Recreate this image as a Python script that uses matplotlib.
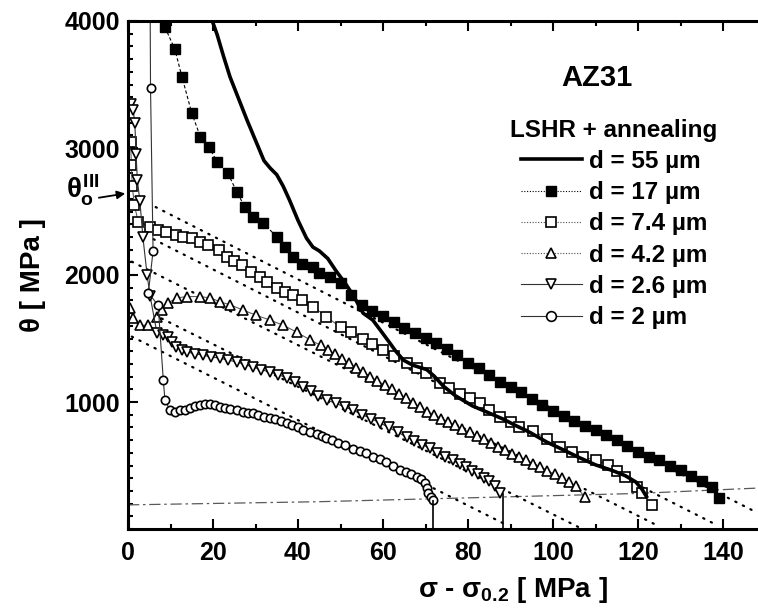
import numpy as np
import matplotlib
matplotlib.use('Agg')
import matplotlib.pyplot as plt
from matplotlib.lines import Line2D

plt.rcParams['font.family'] = ['Liberation Sans', 'DejaVu Sans']
plt.rcParams['font.weight'] = 'bold'
plt.rcParams['mathtext.fontset'] = 'custom'
plt.rcParams['mathtext.rm'] = 'Liberation Sans:bold'
plt.rcParams['mathtext.it'] = 'Liberation Sans:bold'
plt.rcParams['mathtext.bf'] = 'Liberation Sans:bold'

# d = 55 um (solid line)
x55 = [19.3, 21, 22.5, 24, 26, 28, 30, 32, 33.5, 35, 36.5, 38, 40, 42, 43.5, 45, 47, 49, 51, 53,
       55.3, 57.6, 59.5, 61.6, 63, 64.8, 67, 70.3, 72, 74.2, 77, 81, 84.5, 88.3, 91.5, 94.6, 98.5,
       102, 106, 110, 114, 117, 119.5, 121, 122]
t55 = [4050, 3890, 3720, 3560, 3390, 3220, 3060, 2900, 2840, 2790, 2700, 2590, 2430, 2290, 2220,
       2190, 2130, 2030, 1940, 1840, 1700, 1645, 1560, 1465, 1400, 1330, 1290, 1255, 1205, 1125,
       1050, 970, 920, 865, 810, 760, 685, 630, 565, 505, 460, 420, 370, 310, 255]

# d = 17 um (filled squares)
x17 = [8.7, 11, 12.7, 15, 17, 19, 21, 23.5, 25.6, 27.5, 29.5, 31.8, 35, 37, 38.9, 41, 43.6, 45,
       47.5, 50, 52.5, 55, 57.5, 60, 62.5, 65, 67.5, 70, 72.5, 75, 77.5, 80, 82.5, 85, 87.5, 90,
       92.5, 95, 97.5, 100, 102.5, 105, 107.5, 110, 112.5, 115, 117.5, 120, 122.5, 125, 127.5,
       130, 132.5, 135, 137.5, 139]
t17 = [3950, 3780, 3560, 3275, 3090, 3010, 2890, 2800, 2655, 2535, 2460, 2410, 2300, 2220, 2140,
       2090, 2065, 2015, 1985, 1935, 1840, 1760, 1720, 1680, 1630, 1585, 1545, 1505, 1465, 1420,
       1370, 1310, 1265, 1210, 1160, 1120, 1075, 1020, 975, 930, 890, 850, 810, 780, 740, 700,
       650, 605, 570, 540, 500, 465, 420, 380, 330, 245]

# d = 7.4 um (open squares)
x74 = [0.6, 0.8, 1.0, 1.5, 2.4, 5.2, 7, 9, 11.4, 13, 15, 17, 18.9, 21.3, 23.2, 25, 26.8, 29, 31,
       32.6, 35, 37, 38.8, 41, 43.6, 46.7, 50, 52.5, 55.3, 57.5, 60, 62.5, 65.6, 68, 70, 73.4,
       75.5, 78, 80.5, 82.8, 85, 87.5, 90, 92, 95.3, 98.5, 101.6, 104.5, 107, 110, 113, 115,
       117, 119.8, 121, 123.3]
t74 = [3050, 2870, 2700, 2550, 2420, 2380, 2355, 2340, 2315, 2300, 2290, 2260, 2235, 2200, 2140,
       2110, 2080, 2025, 1985, 1945, 1900, 1870, 1840, 1800, 1750, 1670, 1590, 1550, 1500, 1460,
       1410, 1360, 1305, 1265, 1225, 1150, 1110, 1065, 1030, 990, 940, 885, 840, 800, 775, 710,
       645, 610, 570, 540, 505, 460, 410, 330, 280, 190]

# d = 4.2 um (triangles)
x42 = [0.5, 1.2, 2.8, 4.7, 6.8, 8, 9.4, 11.5, 13.8, 17, 19.3, 21.6, 24, 27, 30, 33.4, 36.5,
       39.7, 42.8, 45.4, 47, 48.7, 50.4, 52, 53.7, 55.4, 57, 58.7, 60.4, 62, 63.7, 65.4, 67,
       68.7, 70.4, 72, 73.7, 75.4, 77, 78.7, 80.4, 82, 83.7, 85.4, 87, 88.7, 90.4, 92, 93.7,
       95.4, 97, 98.7, 100.4, 102, 103.7, 105.4, 107.5]
t42 = [1740, 1660, 1605, 1605, 1670, 1725, 1780, 1820, 1830, 1830, 1820, 1790, 1765, 1725, 1685,
       1645, 1605, 1550, 1490, 1445, 1410, 1375, 1340, 1305, 1270, 1235, 1200, 1165, 1135, 1100,
       1065, 1030, 995, 960, 925, 900, 870, 845, 815, 790, 760, 730, 705, 675, 645, 620, 590,
       565, 540, 515, 490, 460, 430, 400, 370, 335, 252]

# d = 2.6 um (inverted triangles)
x26 = [0.8, 1.2, 1.6, 1.9, 2.2, 2.8, 3.5, 4.5, 5.2, 6.8, 8.2, 9.4, 10.4, 11.4, 12.6, 13.8, 15.7,
       17.6, 19.6, 21.6, 23.6, 25.6, 27.5, 29.4, 31.4, 33.4, 35.4, 37.4, 39.3, 41.2, 43, 44.8,
       46.8, 48.9, 51, 53, 55.1, 57.2, 59.3, 61.4, 63.5, 65.6, 67.4, 69.2, 71, 72.8, 74.7, 76.5,
       78, 79.5, 81, 82.3, 83.7, 85, 86.3, 87.5]
t26 = [3350, 3300, 3200, 2950, 2750, 2580, 2300, 2000, 1835, 1545, 1530, 1510, 1470, 1435, 1410,
       1395, 1380, 1370, 1355, 1345, 1330, 1315, 1295, 1275, 1255, 1235, 1215, 1190, 1155, 1120,
       1085, 1050, 1015, 990, 960, 935, 900, 870, 835, 800, 760, 725, 695, 665, 635, 600, 570,
       540, 510, 485, 460, 435, 405, 375, 335, 283]
x26_drop = 88.3

# d = 2 um (circles)
x2 = [5.2, 5.3, 5.9, 4.8, 7.1, 8.3, 8.7, 9.9, 11, 12.2, 13.4, 14.6, 15.8, 17, 18.2, 19.3, 20.5,
      21.6, 22.8, 24, 25.6, 27, 28.3, 29.4, 30.7, 32, 33.4, 34.7, 36, 37.4, 38.7, 40, 41.2, 42.8,
      44.4, 45.6, 46.7, 48, 49.5, 51, 53, 54.5, 56, 57.7, 59.3, 60.8, 62.4, 64, 65.3, 66.7, 68,
      69, 69.9, 70.3, 70.6, 71.2, 71.8]
t2 = [4200, 3470, 2190, 1860, 1760, 1175, 1015, 935, 925, 935, 940, 950, 965, 975, 985, 985, 975,
      960, 955, 945, 935, 925, 915, 910, 895, 885, 875, 865, 850, 835, 815, 800, 780, 765, 750,
      730, 715, 700, 680, 660, 630, 612, 595, 570, 548, 525, 495, 468, 450, 430, 410, 390, 360,
      320, 280, 250, 228]
x2_drop = 71.8

# linear fits (dotted)
fit_x = [[6.5, 148], [6.0, 138.6], [0.9, 125], [7.9, 106], [0.9, 88.3]]
fit_t = [[2535, 129], [2282, 30], [2105, 20], [1658, 15], [1515, 45]]

# dash-dot reference line near the bottom
ref_x = [0, 45, 120, 150]
ref_t = [190, 215, 280, 325]

theta0_III = 2645

fig = plt.figure(figsize=(7.58, 6.09), dpi=100)
ax = fig.add_axes([128/758, 80/609, 637.5/758, 508/609])

ax.plot(ref_x, ref_t, color='0.35', lw=0.9, ls=(0, (9, 3, 2, 3)))
for fx, ft in zip(fit_x, fit_t):
    ax.plot(fx, ft, color='k', lw=1.6, ls=(0, (0.6, 3.2)), dash_capstyle='round')

ax.plot(x17, t17, color='k', lw=0.8, ls=(0, (3, 2)), marker='s', ms=6.5, mfc='k', mec='k')
ax.plot(x74, t74, color='0.3', lw=0.7, marker='s', ms=6.5, mfc='white', mec='k', mew=1.2)
ax.plot(x42, t42, color='0.3', lw=0.7, marker='^', ms=7, mfc='white', mec='k', mew=1.2)
ax.plot(x26, t26, color='0.2', lw=0.8, marker='v', ms=7, mfc='white', mec='k', mew=1.2)
ax.vlines(x26_drop, 0, t26[-1], color='k', lw=1.2)
ax.plot(x2, t2, color='0.2', lw=0.8, marker='o', ms=6, mfc='white', mec='k', mew=1.2)
ax.vlines(x2_drop, 0, t2[-1], color='k', lw=1.2)
ax.plot(x55, t55, color='k', lw=2.6, zorder=4)

ax.set_xlim(0, 150)
ax.set_ylim(0, 4000)
ax.set_xticks([0, 20, 40, 60, 80, 100, 120, 140])
ax.set_xticks(np.arange(0, 151, 10), minor=True)
ax.set_yticks([1000, 2000, 3000, 4000])
ax.set_yticks(np.arange(0, 4001, 100), minor=True)
ax.tick_params(which='both', direction='in', top=True, right=False, width=1.5)
ax.tick_params(which='major', length=7, labelsize=18, pad=6)
ax.tick_params(which='minor', length=3.5)
ax.tick_params(axis='x', which='major', pad=9)
for lab in ax.get_xticklabels() + ax.get_yticklabels():
    lab.set_fontweight('bold')
for s in ['left', 'bottom', 'top']:
    ax.spines[s].set_linewidth(2.2)
ax.spines['right'].set_visible(False)

ax.set_xlabel(r'σ - σ$_{0.2}$ [ MPa ]', fontsize=20, fontweight='bold')
ax.xaxis.set_label_coords(0.604, -0.09)
ax.set_ylabel('θ [ MPa ]', fontsize=20, fontweight='bold')
ax.yaxis.set_label_coords(-0.128, 0.5)

ax.text(0.736, 0.888, 'AZ31', transform=ax.transAxes, fontsize=21, fontweight='bold',
        ha='center', va='center')

ax.annotate('', xy=(0, theta0_III), xytext=(-7.5, theta0_III - 40),
            arrowprops=dict(arrowstyle='-|>', color='k', lw=1.3, mutation_scale=12),
            annotation_clip=False)
ax.text(-14.5, theta0_III + 20, r'$\theta_o^{III}$', fontsize=20, ha='left', va='center')

handles = [
    Line2D([], [], color='k', lw=2.6),
    Line2D([], [], color='k', lw=0.8, ls=(0, (1, 1.5)), marker='s', ms=7, mfc='k', mec='k'),
    Line2D([], [], color='0.3', lw=0.8, ls=(0, (1, 1.5)), marker='s', ms=7, mfc='white', mec='k', mew=1.2),
    Line2D([], [], color='0.3', lw=0.8, ls=(0, (1, 1.5)), marker='^', ms=7.5, mfc='white', mec='k', mew=1.2),
    Line2D([], [], color='0.2', lw=0.8, marker='v', ms=7.5, mfc='white', mec='k', mew=1.2),
    Line2D([], [], color='0.2', lw=0.8, marker='o', ms=7, mfc='white', mec='k', mew=1.2),
]
labels = ['d = 55 µm', 'd = 17 µm', 'd = 7.4 µm', 'd = 4.2 µm', 'd = 2.6 µm', 'd = 2 µm']
leg = ax.legend(handles, labels, loc='upper left', bbox_to_anchor=(0.6, 0.808), frameon=False,
                fontsize=17.5, title='LSHR + annealing', handlelength=2.5, handletextpad=0.3,
                labelspacing=0.34, borderpad=0, borderaxespad=0,
                title_fontproperties={'size': 17.5, 'weight': 'bold'})
for t in leg.get_texts():
    t.set_fontweight('bold')

fig.savefig('out.png', dpi=100)
